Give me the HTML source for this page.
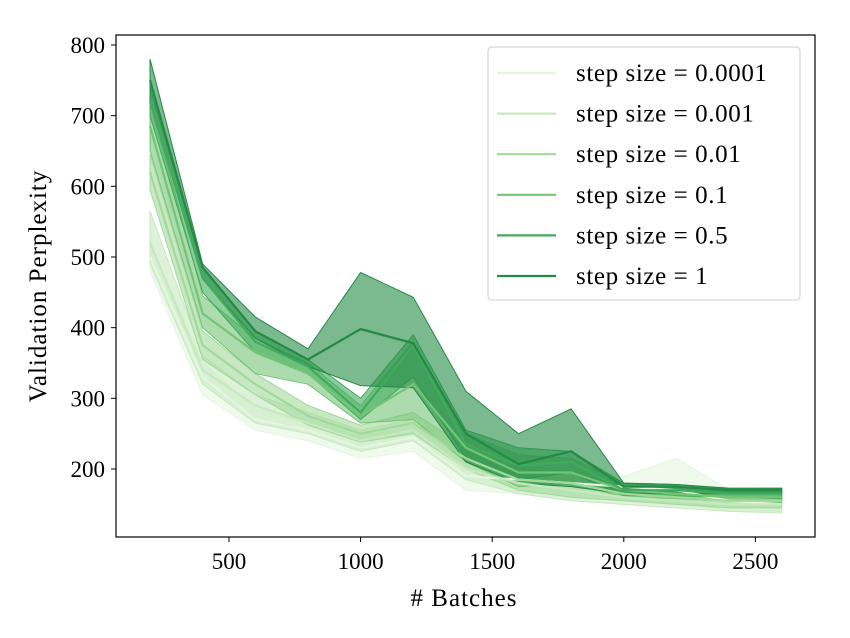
<!DOCTYPE html>
<html><head><meta charset="utf-8"><style>
body{margin:0;background:#fff;}
svg{display:block;font-family:"Liberation Serif",serif;}
</style></head><body>
<svg id="chart" width="850" height="638">
<rect width="850" height="638" fill="#fff"/>
<g id="bands"></g><g id="lines"></g>
<rect x="116" y="35" width="699" height="502" fill="none" stroke="#000" stroke-width="1.2"/>
<g id="xticks"></g><g id="yticks"></g>
<text x="464" y="606" font-size="25" letter-spacing="1" text-anchor="middle"># Batches</text>
<text x="46" y="286" font-size="25" letter-spacing="1" text-anchor="middle" transform="rotate(-90 46 286)">Validation Perplexity</text>
<g id="legend">
<rect x="488" y="47" width="312" height="253" rx="4" fill="#fff" fill-opacity="0.85" stroke="#ccc" stroke-width="1"/>
</g>
</svg>
<script>
const batches=[200,400,600,800,1000,1200,1400,1600,1800,2000,2200,2400,2600];
const labels=["step size = 0.0001","step size = 0.001","step size = 0.01","step size = 0.1","step size = 0.5","step size = 1"];
const colors=["#e5f5e0","#c7e9c0","#a1d99b","#74c476","#41ab5d","#238b45"];
const mean0=[500,330,270,255,230,245,190,185,180,175,170,155,150];
const lo0=[480,305,255,240,215,225,170,165,165,160,155,140,140];
const hi0=[520,350,285,270,245,260,210,200,200,190,215,170,160];
const mean1=[520,340,290,265,240,255,200,180,170,160,155,150,150];
const lo1=[490,320,265,250,225,240,185,165,155,150,145,140,138];
const hi1=[565,360,305,280,255,270,215,195,185,170,165,160,158];
const mean2=[620,375,320,275,250,265,215,185,180,165,160,155,155];
const lo2=[595,355,305,262,238,250,200,170,160,155,150,145,145];
const hi2=[645,395,335,290,262,280,230,200,195,175,170,165,165];
const mean3=[685,420,365,335,275,320,230,195,195,170,165,160,160];
const lo3=[650,400,335,320,265,270,210,175,180,160,158,155,152];
const hi3=[720,445,385,350,290,380,250,220,215,180,175,168,168];
const mean4=[720,470,380,345,280,375,235,205,210,170,170,165,165];
const lo4=[700,450,365,335,270,330,215,185,195,162,162,160,158];
const hi4=[740,485,395,355,300,390,255,230,225,180,178,172,172];
const mean5=[750,485,395,355,398,378,250,207,225,175,175,170,170];
const lo5=[720,470,385,345,318,315,210,180,175,165,165,165,165];
const hi5=[780,490,415,370,478,443,310,250,285,180,178,173,173];
const means=[mean0,mean1,mean2,mean3,mean4,mean5];
const los=[lo0,lo1,lo2,lo3,lo4,lo5];
const his=[hi0,hi1,hi2,hi3,hi4,hi5];
const xTicks=[500,1000,1500,2000,2500];
const yTicks=[200,300,400,500,600,700,800];
const NS="http://www.w3.org/2000/svg";
const X=v=>229+(v-500)*0.2632;
const Y=v=>469-(v-200)*0.7067;
function mk(t,a,p){const e=document.createElementNS(NS,t);for(const k in a)e.setAttribute(k,a[k]);p.appendChild(e);return e;}
const bands=document.getElementById('bands'),lines=document.getElementById('lines');
for(let s=0;s<6;s++){
 let d=batches.map((b,i)=>(i?'L':'M')+X(b)+','+Y(his[s][i])).join('');
 for(let i=batches.length-1;i>=0;i--)d+='L'+X(batches[i])+','+Y(los[s][i]);
 const p=mk('path',{d:d+'Z',fill:colors[s],'fill-opacity':0.6,stroke:colors[s],'stroke-width':1},bands);
 
 
}
for(let s=0;s<6;s++){
 const l=mk('polyline',{points:batches.map((b,i)=>X(b)+','+Y(means[s][i])).join(' '),fill:'none',stroke:colors[s],'stroke-width':2.2},lines);
 
 
}
const xt=document.getElementById('xticks'),yt=document.getElementById('yticks');
xTicks.forEach(v=>{
 mk('line',{x1:X(v),x2:X(v),y1:537,y2:542,stroke:'#000'},xt);
 const t=mk('text',{x:X(v),y:569,'font-size':23,'text-anchor':'middle'},xt);t.textContent=v;
 
 
});
yTicks.forEach(v=>{
 mk('line',{x1:111,x2:116,y1:Y(v),y2:Y(v),stroke:'#000'},yt);
 const t=mk('text',{x:105,y:Y(v)+8,'font-size':23,'text-anchor':'end'},yt);t.textContent=v;
 
 
});
const lg=document.getElementById('legend');
labels.forEach((lab,i)=>{
 const y=73+i*40.6;
 mk('line',{x1:497,x2:556,y1:y,y2:y,stroke:colors[i],'stroke-width':2.2},lg);
 const t=mk('text',{x:576,y:y+8,'font-size':25,'letter-spacing':0.6},lg);t.textContent=lab;
 
 
});
</script>
</body></html>
